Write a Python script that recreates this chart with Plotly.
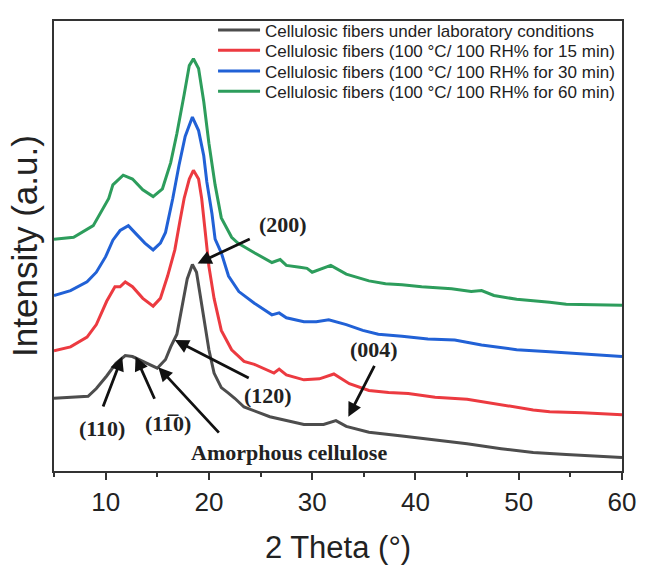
import plotly.graph_objects as go

# ---- data (2 Theta in degrees, intensity in arbitrary units) ----
theta_lab = [5.0, 6.6, 8.3, 9.1, 10.1, 11.0, 11.9, 12.6, 13.6, 14.6, 15.0, 15.8, 16.3, 16.9, 17.4,
             17.9, 18.4, 18.8, 19.1, 19.6, 20.0, 20.5, 21.2, 21.8, 22.5, 23.4, 25.9, 27.5, 29.2,
             31.1, 32.3, 33.3, 35.5, 38.7, 41.9, 45.0, 48.3, 51.4, 54.6, 60.0]
int_lab = [75, 76, 77, 85, 98, 111, 119, 118, 113, 108, 106, 115, 128, 141, 168,
           198, 213, 205, 185, 151, 125, 101, 86, 81, 75, 66, 56, 52, 48,
           48, 52, 46, 40, 36, 32, 28, 23, 19, 17, 14]

theta_15 = [5.0, 6.6, 8.2, 9.1, 10.1, 10.9, 11.4, 11.9, 12.6, 13.6, 14.6, 15.3, 16.0, 16.7, 17.2,
            17.6, 18.1, 18.5, 19.0, 19.3, 19.6, 20.0, 20.5, 21.2, 22.2, 23.4, 24.4, 26.3, 26.8,
            27.5, 29.2, 30.7, 32.1, 33.6, 35.5, 37.4, 39.3, 41.9, 45.0, 48.3, 51.4, 53.0, 56.2, 60.0]
int_15 = [124, 128, 138, 151, 175, 190, 190, 195, 190, 178, 170, 178, 201, 228, 258,
          281, 301, 310, 301, 281, 251, 211, 178, 145, 125, 113, 110, 101, 105,
          99, 94, 95, 100, 90, 83, 81, 80, 76, 74, 68, 63, 61, 60, 58]

theta_30 = [5.0, 6.6, 8.2, 9.1, 10.0, 10.7, 11.4, 12.2, 12.9, 13.8, 14.6, 15.3, 15.8, 16.0, 16.5,
            17.1, 17.7, 18.4, 19.0, 19.5, 19.8, 20.3, 20.6, 21.2, 21.9, 22.9, 24.4, 26.1, 26.8,
            27.5, 29.2, 30.4, 31.6, 33.3, 34.9, 36.4, 38.7, 41.2, 43.8, 46.4, 49.8, 53.0, 56.2, 60.0]
int_30 = [181, 186, 195, 205, 221, 238, 248, 253, 245, 235, 228, 235, 246, 256, 281,
          315, 345, 365, 351, 325, 298, 265, 239, 225, 201, 185, 173, 161, 163,
          158, 154, 154, 156, 151, 145, 141, 139, 136, 135, 130, 125, 123, 121, 118]

theta_60 = [5.0, 6.9, 8.8, 10.3, 10.7, 11.7, 12.6, 13.6, 14.6, 15.5, 16.3, 16.9, 17.6, 18.1, 18.5,
            19.0, 19.5, 20.0, 20.6, 21.2, 22.2, 22.8, 24.4, 26.1, 26.9, 27.5, 28.8, 29.5, 30.0,
            31.8, 33.3, 35.5, 37.1, 38.7, 40.6, 43.5, 45.4, 46.4, 47.6, 49.8, 53.0, 54.6, 60.0]
int_60 = [239, 241, 253, 281, 295, 305, 301, 290, 283, 291, 318, 348, 388, 418, 425,
          415, 381, 338, 295, 261, 241, 235, 225, 215, 218, 212, 210, 209, 205,
          212, 203, 196, 193, 192, 190, 188, 185, 186, 181, 177, 174, 172, 171]

series_names = [
    "Cellulosic fibers under laboratory conditions",
    "Cellulosic fibers (100 \u00b0C/ 100 RH% for 15 min)",
    "Cellulosic fibers (100 \u00b0C/ 100 RH% for 30 min)",
    "Cellulosic fibers (100 \u00b0C/ 100 RH% for 60 min)",
]
series_colors = ["#4d4d4d", "#ec3a40", "#2161d6", "#2d9d5c"]

# peak labels: text, label position, arrow head, arrow tail (data coords)
peak_text = ["(200)", "(120)", "(004)", "(110)", "(11\u03050)", "Amorphous cellulose"]
peak_label_x = [27.2, 25.7, 36.0, 9.6, 16.0, 27.8]
peak_label_y = [254, 78, 125, 44, 49, 19]
arrow_head_x = [18.9, 16.7, 33.5, 11.6, 12.9, 15.1]
arrow_head_y = [214, 135, 56, 118, 118, 107]
arrow_tail_x = [24.1, 24.0, 36.1, 9.7, 14.8, 21.1]
arrow_tail_y = [240, 95, 110, 65, 73, 38]

legend_ids = ["legend", "legend2", "legend3", "legend4"]
legend_rows_y = [0.979, 0.934, 0.888, 0.843]

fig = go.Figure()
for name, xs, ys, col, lg in zip(series_names,
                                 [theta_lab, theta_15, theta_30, theta_60],
                                 [int_lab, int_15, int_30, int_60],
                                 series_colors, legend_ids):
    fig.add_trace(go.Scatter(x=xs, y=ys, mode="lines", name=name, legend=lg,
                             line=dict(color=col, width=3)))

for t, lx, ly, hx, hy, tx, ty in zip(peak_text, peak_label_x, peak_label_y,
                                     arrow_head_x, arrow_head_y, arrow_tail_x, arrow_tail_y):
    fig.add_annotation(x=lx, y=ly, text="<b>%s</b>" % t, showarrow=False,
                       font=dict(family="Liberation Serif, Times New Roman, serif", size=22, color="#222"))
    fig.add_annotation(x=hx, y=hy, ax=tx, ay=ty, xref="x", yref="y", axref="x", ayref="y",
                       text="", showarrow=True, arrowhead=2, arrowsize=1, arrowwidth=2.8,
                       arrowcolor="#111")

legend_common = dict(x=0.28, xanchor="left", yanchor="middle",
                     bgcolor="rgba(0,0,0,0)", font=dict(size=17, color="#222"),
                     itemwidth=42, borderwidth=0)
legend_layouts = {lg: dict(legend_common, y=yy) for lg, yy in zip(legend_ids, legend_rows_y)}

fig.update_layout(
    width=648, height=571,
    margin=dict(l=54, r=19, t=14, b=93),
    paper_bgcolor="white", plot_bgcolor="white",
    font=dict(family="Liberation Sans, Arial, sans-serif", color="#222"),
    showlegend=True,
    xaxis=dict(range=[5, 60], tickmode="linear", tick0=0, dtick=10,
               ticks="outside", ticklen=7, tickwidth=1.5, tickcolor="#333",
               minor=dict(ticks="outside", ticklen=4, tick0=5, dtick=5, tickcolor="#333", tickwidth=1.5),
               showline=True, mirror=True, linecolor="#333", linewidth=2,
               showgrid=False, zeroline=False,
               tickfont=dict(size=26, color="#222"),
               title=dict(text="2 Theta (\u00b0)", font=dict(size=31, color="#222"), standoff=20)),
    yaxis=dict(range=[0, 464], showticklabels=False, ticks="",
               showline=True, mirror=True, linecolor="#333", linewidth=2,
               showgrid=False, zeroline=False,
               title=dict(text="Intensity (a.u.)", font=dict(size=35, color="#222"), standoff=4)),
    **legend_layouts,
)

fig.write_html("out.html")
